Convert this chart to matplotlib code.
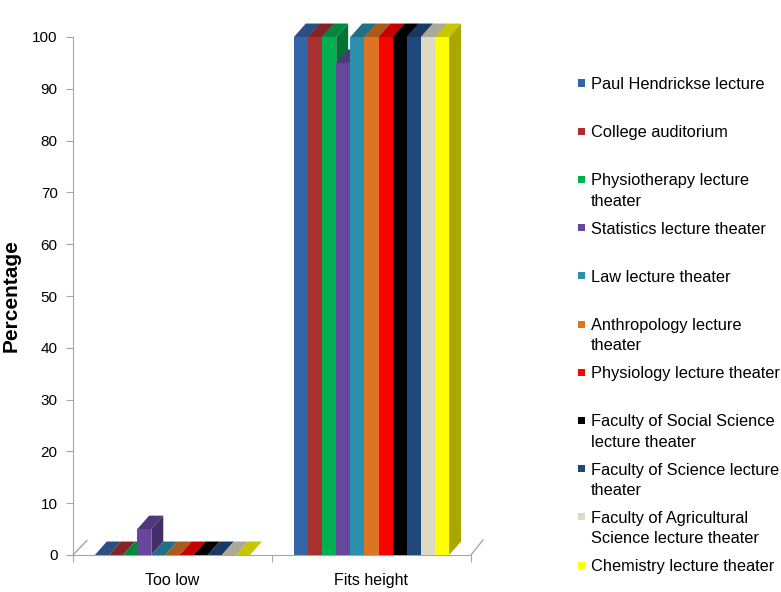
import numpy as np
import matplotlib.pyplot as plt
from matplotlib.patches import Polygon, Rectangle
from matplotlib.colors import to_rgb

plt.rcParams['font.family'] = ['Liberation Sans', 'DejaVu Sans']

# Data
categories = ["Too low", "Fits height"]
series = [
    "Paul Hendrickse lecture",
    "College auditorium",
    "Physiotherapy lecture\ntheater",
    "Statistics lecture theater",
    "Law lecture theater",
    "Anthropology lecture\ntheater",
    "Physiology lecture theater",
    "Faculty of Social Science\nlecture theater",
    "Faculty of Science lecture\ntheater",
    "Faculty of Agricultural\nScience lecture theater",
    "Chemistry lecture theater",
]
too_low = [0, 0, 0, 5, 0, 0, 0, 0, 0, 0, 0]
fits_height = [100, 100, 100, 95, 100, 100, 100, 100, 100, 100, 100]
colors = ["#3465A8", "#A8302F", "#00B050", "#66479C", "#2B90AD", "#DC7422",
          "#FF0000", "#000000", "#1F497D", "#DDD9C3", "#FFFF00"]

values = [too_low, fits_height]

fig = plt.figure(figsize=(7.81, 5.92), dpi=100)
ax = fig.add_axes([73 / 781, 37 / 592, 398 / 781, 518 / 592])

n = len(series)
w = 0.0709      # bar width in data units
dx = 0.06       # 3D depth offsets
dy = 2.6


def shade(c, f):
    r, g, b = to_rgb(c)
    return (r * f, g * f, b * f)


for gi, cat in enumerate(categories):
    left0 = gi + 0.5 - n * w / 2
    for j in range(n):
        v = values[gi][j]
        xl = left0 + j * w
        z = 2 + j
        col = colors[j]
        ax.bar(xl, v, width=w, align='edge', color=col, zorder=z + 0.5,
               linewidth=0, clip_on=False)
        top = Polygon([(xl, v), (xl + w, v), (xl + w + dx, v + dy), (xl + dx, v + dy)],
                      closed=True, facecolor=shade(col, 0.78), edgecolor='none',
                      zorder=z, clip_on=False)
        side = Polygon([(xl + w, 0), (xl + w + dx, dy), (xl + w + dx, v + dy), (xl + w, v)],
                       closed=True, facecolor=shade(col, 0.66), edgecolor='none',
                       zorder=z, clip_on=False)
        ax.add_patch(top)
        ax.add_patch(side)

# floor edges
axis_col = "#A6A6A6"
ax.plot([0, 0.07], [0, 2.8], color=axis_col, lw=1, clip_on=False, zorder=1)
ax.plot([2, 2.06], [0, 2.9], color=axis_col, lw=1, clip_on=False, zorder=1)

ax.set_xlim(0, 2)
ax.set_ylim(0, 100)
ax.set_yticks(np.arange(0, 101, 10))
ax.set_xticks([0, 1, 2])
ax.set_xticklabels([])
ax.set_xticks([0.5, 1.5], minor=True)
ax.set_xticklabels(categories, minor=True, fontsize=11.5)
ax.tick_params(axis='x', which='minor', length=0, pad=13)
ax.tick_params(axis='x', which='major', length=5, color=axis_col)
ax.tick_params(axis='y', length=5, color=axis_col, labelsize=11, pad=6)

for s in ['top', 'right']:
    ax.spines[s].set_visible(False)
for s in ['left', 'bottom']:
    ax.spines[s].set_color(axis_col)

ax.set_ylabel("Percentage", fontsize=15, fontweight='bold', labelpad=8)

# legend, built by hand so entries keep an even spacing
lx = 591 / 781
for j, name in enumerate(series):
    yc = 83 + j * 48.2
    fig.patches.append(Rectangle((578 / 781, 1 - (yc + 3.5) / 592), 7 / 781, 7 / 592,
                                 transform=fig.transFigure, facecolor=colors[j],
                                 edgecolor='none'))
    fig.text(lx, 1 - (yc - 6) / 592, name, fontsize=11.8, va='top', ha='left',
             linespacing=1.45)

fig.savefig("out.png", dpi=100)
